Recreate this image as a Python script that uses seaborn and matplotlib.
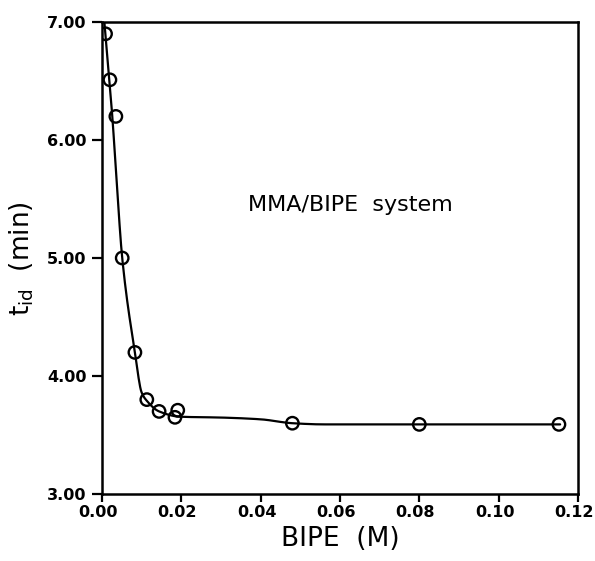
import numpy as np
import pandas as pd
import matplotlib
matplotlib.use("Agg")
import matplotlib.pyplot as plt
import matplotlib.transforms as mtransforms
import seaborn as sns

# Measured induction times
bipe_conc = [0.0009, 0.0020, 0.0035, 0.0051, 0.0083, 0.0113, 0.0144, 0.0184, 0.0191, 0.0480, 0.0800, 0.1152]
t_id = [6.90, 6.51, 6.20, 5.00, 4.20, 3.80, 3.70, 3.65, 3.71, 3.60, 3.59, 3.59]

# Knots of the smooth guide curve
curve_x = [0.0006, 0.0026, 0.0040, 0.0051, 0.0083, 0.0100, 0.0113, 0.0144, 0.0197, 0.0300, 0.0400, 0.0480, 0.0560, 0.0800, 0.1155]
curve_y = [7.00, 6.20, 5.49, 5.00, 4.20, 3.86, 3.79, 3.70, 3.655, 3.648, 3.633, 3.600, 3.590, 3.590, 3.590]

x_ticks = [0.00, 0.02, 0.04, 0.06, 0.08, 0.10, 0.12]
y_ticks = [3.00, 4.00, 5.00, 6.00, 7.00]


def pchip(xk, yk, xs):
    """Monotone piecewise cubic Hermite through the knots."""
    xk = np.asarray(xk, float)
    yk = np.asarray(yk, float)
    h = np.diff(xk)
    d = np.diff(yk) / h
    m = np.zeros_like(yk)
    for i in range(1, len(xk) - 1):
        if d[i - 1] * d[i] > 0:
            w1 = 2 * h[i] + h[i - 1]
            w2 = h[i] + 2 * h[i - 1]
            m[i] = (w1 + w2) / (w1 / d[i - 1] + w2 / d[i])
    m[0] = d[0]
    m[-1] = d[-1]
    idx = np.clip(np.searchsorted(xk, xs) - 1, 0, len(h) - 1)
    t = (xs - xk[idx]) / h[idx]
    h00 = 2 * t**3 - 3 * t**2 + 1
    h10 = t**3 - 2 * t**2 + t
    h01 = -2 * t**3 + 3 * t**2
    h11 = t**3 - t**2
    return (h00 * yk[idx] + h10 * h[idx] * m[idx]
            + h01 * yk[idx + 1] + h11 * h[idx] * m[idx + 1])


sns.set_style("white")
plt.rcParams["font.family"] = ["DejaVu Sans"]
plt.rcParams["mathtext.default"] = "regular"
plt.rcParams["text.color"] = "black"
plt.rcParams["axes.labelcolor"] = "black"

fig = plt.figure(figsize=(5.95, 5.61), dpi=100)
ax = fig.add_axes([0.1714, 0.1194, 0.8000, 0.8414])

xs = np.linspace(curve_x[0], curve_x[-1], 600)
curve = pd.DataFrame({"x": xs, "y": pchip(curve_x, curve_y, xs)})
pts = pd.DataFrame({"x": bipe_conc, "y": t_id})

sns.lineplot(data=curve, x="x", y="y", ax=ax, color="black", linewidth=1.6)
sns.scatterplot(data=pts, x="x", y="y", ax=ax, marker="o", s=80,
                facecolor="none", edgecolor="black", linewidth=1.7, zorder=3)

ax.set_xlim(0, 0.12)
ax.set_ylim(3.0, 7.0)
ax.set_xticks(x_ticks)
ax.set_yticks(y_ticks)
ax.set_xticklabels([f"{v:.2f}" for v in x_ticks], fontsize=11.5, fontweight="bold")
ax.set_yticklabels([f"{v:.2f}" for v in y_ticks], fontsize=11.5, fontweight="bold")
ax.tick_params(axis="x", bottom=True, direction="out", length=6, width=1.6,
               pad=2, color="black", labelcolor="black")
ax.tick_params(axis="y", left=True, direction="out", length=7, width=1.6,
               pad=4, color="black", labelcolor="black")

# nudge the x tick labels slightly left of their ticks
shift = mtransforms.ScaledTranslation(-4 / 100, 0, fig.dpi_scale_trans)
for lab in ax.get_xticklabels():
    lab.set_transform(lab.get_transform() + shift)

for side in ["left", "right", "top", "bottom"]:
    ax.spines[side].set_visible(True)
    ax.spines[side].set_color("black")
    ax.spines[side].set_linewidth(1.8)

ax.set_xlabel("BIPE  (M)", fontsize=19, labelpad=4)
ax.set_ylabel("$t_{id}$  (min)", fontsize=19, labelpad=8)

ax.text(0.0368, 5.45, "MMA/BIPE  system", fontsize=16, va="center", ha="left")

fig.savefig("out.png", dpi=100)
